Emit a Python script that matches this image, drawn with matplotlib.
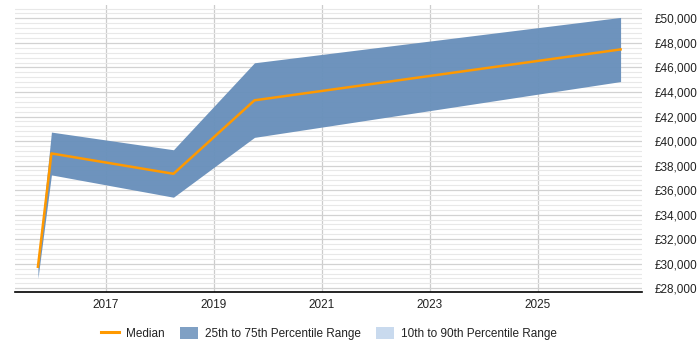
import matplotlib.pyplot as plt
from matplotlib.ticker import MultipleLocator, FuncFormatter
from matplotlib.patches import Patch
from matplotlib.lines import Line2D

plt.rcParams['font.family'] = ['Liberation Sans', 'DejaVu Sans']

# data (fractional years)
years = [2015.74, 2015.99, 2018.25, 2019.75, 2026.53]
median = [29750, 38990, 37330, 43320, 47470]
p25 = [28800, 37240, 35420, 40300, 44850]
p75 = [29900, 40730, 39290, 46380, 50080]

xticks = [2017, 2019, 2021, 2023, 2025]

fig = plt.figure(figsize=(7, 3.5), dpi=100)
ax = fig.add_axes([0.0214, 0.166, 0.896, 0.82])

ax.fill_between(years, p25, p75, color='#6990bb', alpha=0.97, linewidth=0, zorder=2)
ax.plot(years, median, color='#ff9900', linewidth=1.8, zorder=3)

ax.set_xlim(2015.315, 2026.93)
ax.set_ylim(27700, 51100)
ax.set_xticks(xticks)
ax.set_xticklabels([str(y) for y in xticks])
ax.yaxis.set_major_locator(MultipleLocator(2000))
ax.yaxis.set_minor_locator(MultipleLocator(400))
ax.yaxis.set_major_formatter(FuncFormatter(lambda v, p: '£{:,.0f}'.format(v)))
ax.yaxis.tick_right()

ax.grid(axis='y', which='major', color='#d2d2d2', linewidth=0.9, zorder=0)
ax.grid(axis='y', which='minor', color='#e8e8e8', linewidth=0.8, zorder=0)
ax.grid(axis='x', which='major', color='#cccccc', linewidth=0.9, zorder=0)

for s in ['top', 'right', 'left']:
    ax.spines[s].set_visible(False)
ax.spines['bottom'].set_color('black')
ax.spines['bottom'].set_linewidth(1.2)

ax.tick_params(axis='y', which='both', length=0, pad=9, labelsize=8.5, labelcolor='#222222')
ax.tick_params(axis='x', which='both', length=0, pad=5, labelsize=8.5, labelcolor='#222222')

handles = [
    Line2D([0], [0], color='#ff9900', linewidth=2.2),
    Patch(facecolor='#7fa0c4', edgecolor='none'),
    Patch(facecolor='#c9daee', edgecolor='none'),
]
labels = ['Median', '25th to 75th Percentile Range', '10th to 90th Percentile Range']
fig.legend(handles, labels, loc='center', bbox_to_anchor=(0.47, 0.047), ncol=3,
           frameon=False, fontsize=8.5, handlelength=1.5, handleheight=1.2,
           columnspacing=1.3, handletextpad=0.6, labelcolor='#222222')

fig.savefig('out.png', dpi=100)
